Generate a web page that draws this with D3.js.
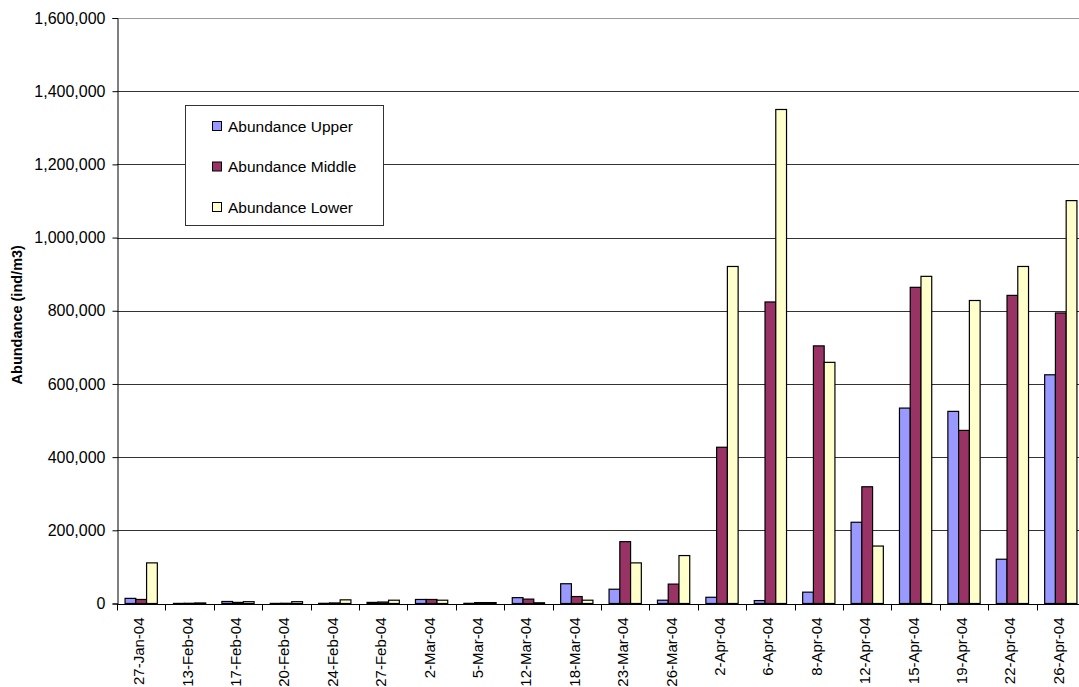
<!DOCTYPE html>
<html>
<head>
<meta charset="utf-8">
<script src="https://cdn.jsdelivr.net/npm/d3@7"></script>
<style>
  html, body { margin: 0; padding: 0; background: #fff; overflow: hidden; }
  svg { display: block; font-family: "Liberation Sans", Arial, sans-serif; }
</style>
</head>
<body>
<svg id="chart" width="1079" height="687"></svg>
<script>
// Sampling dates
const dates = ["27-Jan-04","13-Feb-04","17-Feb-04","20-Feb-04","24-Feb-04","27-Feb-04",
  "2-Mar-04","5-Mar-04","12-Mar-04","18-Mar-04","23-Mar-04","26-Mar-04",
  "2-Apr-04","6-Apr-04","8-Apr-04","12-Apr-04","15-Apr-04","19-Apr-04","22-Apr-04","26-Apr-04"];

// Abundance (ind/m3) per depth layer
const upper  = [14000, 300, 5500, 300, 500, 3000, 11000, 500, 16000, 54000, 39000, 9000,
  17000, 8000, 31000, 222000, 534000, 525000, 121000, 625000];
const middle = [11000, 600, 3000, 600, 1500, 4000, 11000, 2500, 12000, 19000, 169000, 53000,
  427000, 824000, 704000, 319000, 864000, 473000, 842000, 794000];
const lower  = [111000, 1500, 5000, 5000, 10000, 9000, 9000, 2500, 2000, 9000, 111000, 131000,
  921000, 1350000, 659000, 157000, 894000, 828000, 921000, 1101000];

const seriesNames = ["Abundance Upper", "Abundance Middle", "Abundance Lower"];
const seriesColors = ["#9999FF", "#993366", "#FFFFCC"];
const yTicks = [0, 200000, 400000, 600000, 800000, 1000000, 1200000, 1400000, 1600000];

const series = [upper, middle, lower];
const rows = dates.map((d, i) => ({ date: d, values: series.map(s => s[i]) }));

const svg = d3.select("#chart");
const plotLeft = 117, plotTop = 18, plotBottom = 603.5;
const bandW = 48.4;

const x = d3.scaleBand().domain(dates).range([plotLeft, plotLeft + bandW * dates.length]).paddingInner(0).paddingOuter(0);
const barW = x.bandwidth() / 4.5;
const xs = d3.scaleBand().domain(d3.range(3)).range([barW * 0.75, barW * 3.75]);
const y = d3.scaleLinear().domain([0, 1600000]).range([plotBottom, plotTop]);

// Horizontal gridlines
svg.append("g")
  .selectAll("line")
  .data(yTicks.filter(t => t > 0))
  .join("line")
  .attr("x1", plotLeft).attr("x2", 1079)
  .attr("y1", d => Math.round(y(d)) + 0.5).attr("y2", d => Math.round(y(d)) + 0.5)
  .attr("stroke", d => d === 1600000 ? "#999" : "#333")
  .attr("stroke-width", 1);

// Bars
const groups = svg.append("g")
  .selectAll("g")
  .data(rows)
  .join("g")
  .attr("transform", d => `translate(${x(d.date)},0)`);

groups.selectAll("rect")
  .data(d => d.values.map((v, k) => ({ v, k })))
  .join("rect")
  .attr("x", d => xs(d.k))
  .attr("width", xs.bandwidth())
  .attr("y", d => y(d.v))
  .attr("height", d => y(0) - y(d.v))
  .attr("fill", d => seriesColors[d.k])
  .attr("stroke", "#000")
  .attr("stroke-width", 1.2);

// Y axis
const yAxis = d3.axisLeft(y).tickValues(yTicks).tickSize(5).tickPadding(7)
  .tickFormat(d3.format(","));
const gy = svg.append("g").attr("transform", `translate(${plotLeft + 0.5},0)`).call(yAxis);
gy.select(".domain").attr("stroke", "#000");
gy.selectAll(".tick line").attr("stroke", "#000");
gy.selectAll("text").attr("font-size", 16).attr("fill", "#000")
  .attr("font-family", "Liberation Sans, Arial, sans-serif");

// X axis with ticks at category boundaries
const gx = svg.append("g").attr("transform", `translate(0,${Math.round(plotBottom) + 0.5})`);
gx.append("line").attr("x1", plotLeft).attr("x2", 1079).attr("stroke", "#000");
gx.selectAll("line.tk")
  .data(d3.range(dates.length + 1))
  .join("line")
  .attr("class", "tk")
  .attr("x1", i => Math.round(plotLeft + i * x.step()) + 0.5)
  .attr("x2", i => Math.round(plotLeft + i * x.step()) + 0.5)
  .attr("y1", 0).attr("y2", 6)
  .attr("stroke", "#000");
gx.selectAll("text")
  .data(dates)
  .join("text")
  .attr("transform", d => `translate(${x(d) + x.bandwidth() / 2 + 3},13) rotate(-90)`)
  .attr("text-anchor", "end")
  .attr("font-size", 15)
  .text(d => d);

// Y axis title
svg.append("text")
  .attr("transform", `translate(22,${(plotTop + plotBottom) / 2 + 4}) rotate(-90)`)
  .attr("text-anchor", "middle")
  .attr("font-size", 14.5)
  .attr("font-weight", "bold")
  .text("Abundance (ind/m3)");

// Legend
const lg = svg.append("g").attr("transform", "translate(185,105)");
lg.append("rect").attr("x", 0.5).attr("y", 0.5).attr("width", 198).attr("height", 120)
  .attr("fill", "#fff").attr("stroke", "#333");
const items = lg.selectAll("g.item").data(seriesNames).join("g").attr("class", "item")
  .attr("transform", (d, i) => `translate(0,${21 + i * 40.5})`);
items.append("rect").attr("x", 27.5).attr("y", -4.5).attr("width", 9).attr("height", 9)
  .attr("fill", (d, i) => seriesColors[i]).attr("stroke", "#000");
items.append("text").attr("x", 43).attr("y", 5.5).attr("font-size", 15.5).text(d => d);
</script>
</body>
</html>
